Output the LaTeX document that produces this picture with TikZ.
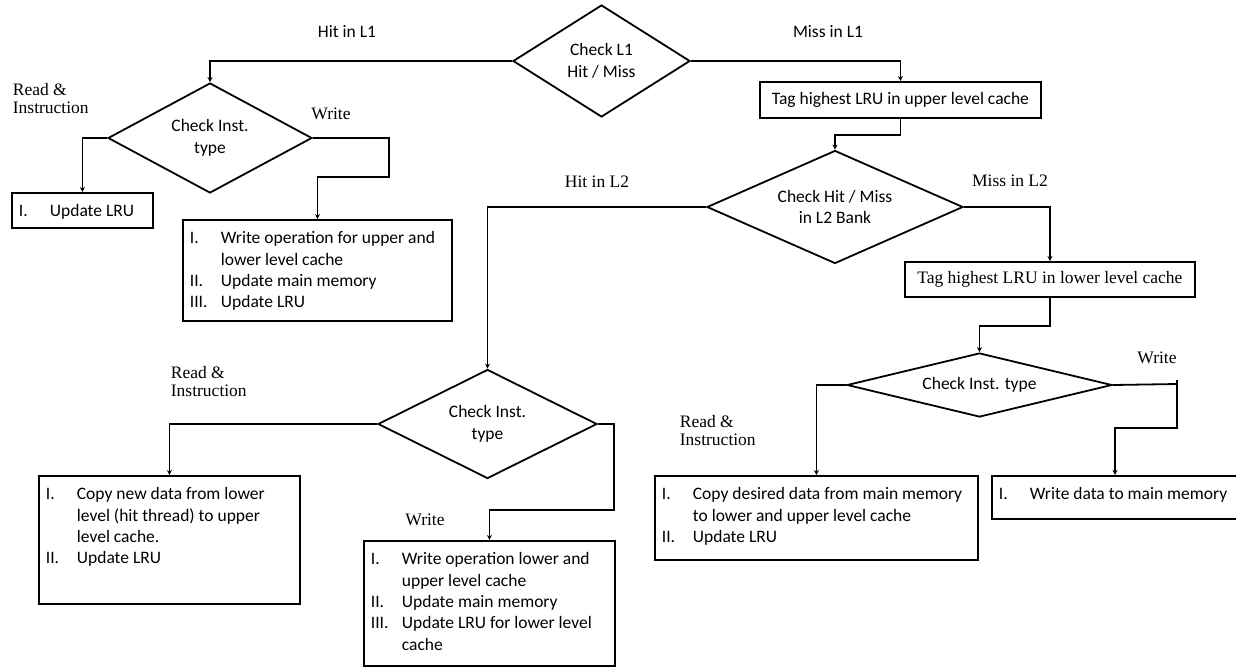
\documentclass[tikz,border=0pt]{standalone}
\usepackage{fontspec}
\setmainfont{Carlito}
\newfontfamily\tms{Liberation Serif}
\usetikzlibrary{shapes.geometric,arrows.meta}

% list of steps inside a box: numeral column, then the text
\newcommand{\steplist}[1]{\begin{tabular}{@{}p{31pt}@{}l@{}}#1\end{tabular}}

\begin{document}
\begin{tikzpicture}[x=1pt,y=-1pt,
  line width=1.8pt,
  flow/.style={line width=1.8pt,-{Stealth[length=5pt,width=5pt]}},
  decide/.style={draw,diamond,inner sep=0pt,align=center,
    font=\fontsize{17.5}{21.5}\selectfont},
  stepbox/.style={draw,rectangle,inner sep=0pt,anchor=north west},
  steps/.style={anchor=north west,inner sep=0pt,
    font=\fontsize{17.5}{21.3}\selectfont},
  tlbl/.style={inner sep=0pt,align=left,font=\tms\fontsize{17.5}{18}\selectfont},
  slbl/.style={inner sep=0pt,font=\fontsize{17.5}{18}\selectfont}
]
\path[use as bounding box,fill=white] (0,0) rectangle (1236,667);
\clip (0,0) rectangle (1236,667);

% decisions
\node[decide,aspect=1.58,minimum width=177,minimum height=112] (d1) at (601.5,61) {Check L1\\Hit / Miss};
\node[decide,aspect=1.85,minimum width=204,minimum height=110] (d2) at (210,138) {Check Inst.\\type};
\node[decide,aspect=2.27,minimum width=256,minimum height=113] (d3) at (835,207) {Check Hit / Miss\\in L2 Bank};
\node[decide,aspect=2.0,minimum width=219,minimum height=109] (d4) at (487.5,424) {Check Inst.\\type};
\node[decide,aspect=4.1,minimum width=265,minimum height=64] (d5) at (979.5,385) {Check Inst. type};

% tag boxes
\node[stepbox,minimum width=281,minimum height=36,font=\fontsize{17.5}{21}\selectfont]
  (t1) at (759,81) {Tag highest LRU in upper level cache};
\node[stepbox,minimum width=290,minimum height=35,font=\tms\fontsize{17.5}{21}\selectfont]
  (t2) at (904,261) {Tag highest LRU in lower level cache};

% action boxes
\node[stepbox,minimum width=141,minimum height=35] (b1) at (11,192) {};
\node[steps] (b1t) at (18,201) {\steplist{I. & Update LRU}};

\node[stepbox,minimum width=269,minimum height=101] (b2) at (182,219) {};
\node[steps] (b2t) at (189,228) {\steplist{I. & Write operation for upper and\\ & lower level cache\\ II. & Update main memory\\ III. & Update LRU}};

\node[stepbox,minimum width=261,minimum height=128] (b3) at (38,475) {};
\node[steps] (b3t) at (45,484) {\steplist{I. & Copy new data from lower\\ & level (hit thread) to upper\\ & level cache.\\ II. & Update LRU}};

\node[stepbox,minimum width=251,minimum height=125] (b4) at (363,540) {};
\node[steps] (b4t) at (370,549) {\steplist{I. & Write operation lower and\\ & upper level cache\\ II. & Update main memory\\ III. & Update LRU for lower level\\ & cache}};

\node[stepbox,minimum width=323,minimum height=84] (b5) at (654,475) {};
\node[steps] (b5t) at (661,484) {\steplist{I. & Copy desired data from main memory\\ & to lower and upper level cache\\ II. & Update LRU}};

\node[stepbox,minimum width=254,minimum height=43] (b6) at (991,475) {};
\node[steps] (b6t) at (998,484) {\steplist{I. & Write data to main memory}};
\coordinate (b6in) at (1115,475);

% branch labels
\node[slbl] (l1) at (347,32) {Hit in L1};
\node[slbl] (l2) at (828,32) {Miss in L1};
\node[tlbl,anchor=west] (l3) at (12,99) {Read \&\\Instruction};
\node[tlbl] (l4) at (331,114) {Write};
\node[tlbl] (l5) at (597,182) {Hit in L2};
\node[tlbl] (l6) at (1010,181) {Miss in L2};
\node[tlbl,anchor=west] (l7) at (170,382) {Read \&\\Instruction};
\node[tlbl] (l8) at (425,520) {Write};
\node[tlbl,anchor=west] (l9) at (679,431) {Read \&\\Instruction};
\node[tlbl] (l10) at (1157,358) {Write};

% connectors
\draw[flow] (d1.west) -| (d2.north);
\draw[flow] (d2.west) -| (b1.north);
\draw[flow] (d2.east) -| (389,177) -| (b2.north);
\draw[flow] (d1.east) -| (t1.north);
\draw[flow] (t1.south) -- ++(0,16) -| (d3.north);
\draw[flow] (d3.west) -| (d4.north);
\draw[flow] (d3.east) -| (t2.north);
\draw[flow] (t2.south) -- ++(0,28) -| (d5.north);
\draw[flow] (d5.west) -| (b5.north);
\draw[flow] (d5.east) -- (1177,384) (1177,380) -- (1177,428) -| (b6in);
\draw[flow] (d4.west) -| (b3.north);
\draw[flow] (d4.east) -| (614,510) -| (b4.north);
\end{tikzpicture}
\end{document}
